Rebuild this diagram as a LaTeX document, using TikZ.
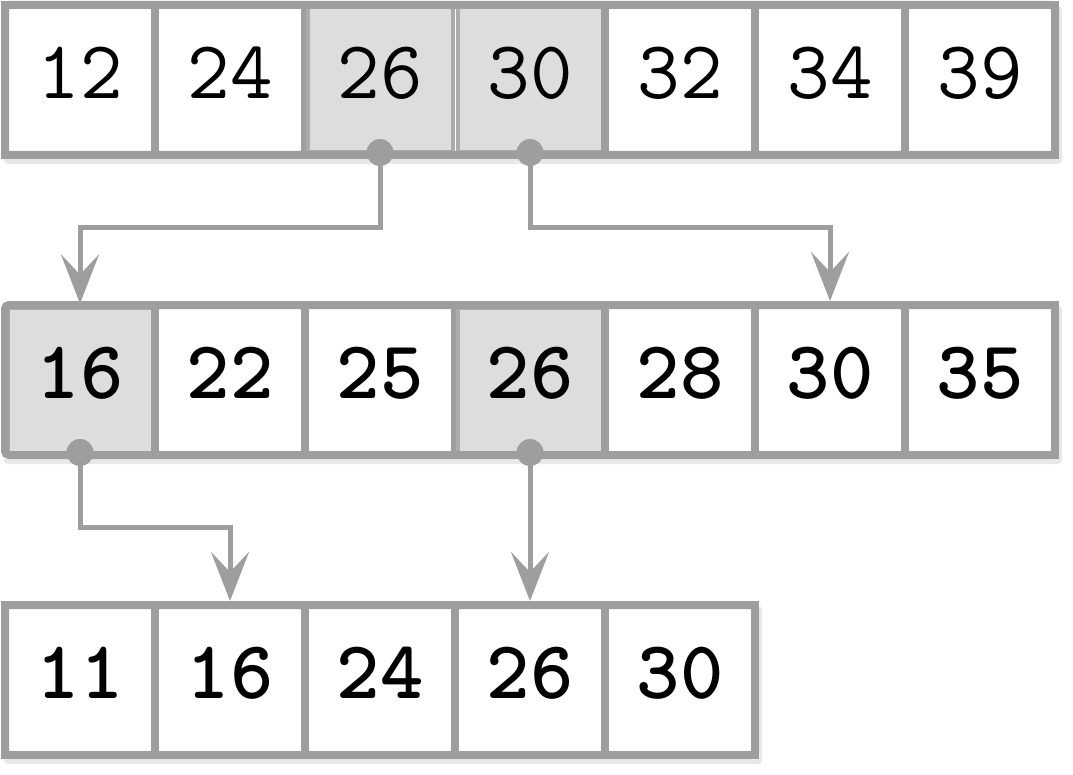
\documentclass[tikz,border=0pt]{standalone}
\usepackage{fontspec}
\usetikzlibrary{arrows.meta,shadows}
\definecolor{linegray}{HTML}{9E9E9E}
\definecolor{cellgray}{HTML}{DDDDDD}
\definecolor{markgray}{HTML}{ACACAC}
\tikzset{
  cell/.style={draw=linegray, line width=0.16cm, minimum size=3cm, inner sep=0pt,
    outer sep=0pt, fill=white, text height=29pt, text depth=8pt,
    font=\ttfamily\fontsize{47}{52}\selectfont},
  markcell/.style={cell, fill=cellgray, draw=markgray, line width=0.08cm, minimum size=2.9cm},
  boldcell/.style={cell, font=\ttfamily\bfseries\fontsize{47}{52}\selectfont},
  boldmark/.style={markcell, font=\ttfamily\bfseries\fontsize{47}{52}\selectfont},
  rowback/.style={fill=white, rounded corners=0.08cm,
    drop shadow={opacity=0.18, shadow xshift=0.06cm, shadow yshift=-0.1cm}},
  rowline/.style={draw=linegray, line width=0.16cm, rounded corners=0.08cm},
  link/.style={draw=linegray, line width=0.1cm, shorten >=0.08cm,
    -{Stealth[length=0.98cm, width=0.76cm, inset=0.4cm]}},
  dot/.style={fill=linegray}
}
\begin{document}
\begin{tikzpicture}
    \useasboundingbox (0,0) rectangle (21.46,-15.48);
    % row backgrounds
    \fill[rowback] (0.02,-0.02) rectangle (21.18,-3.18);
    \fill[rowback] (0.02,-6.02) rectangle (21.18,-9.18);
    \fill[rowback] (0.02,-12.02) rectangle (15.18,-15.18);
    % first row
    \foreach \v/\s [count=\i] in {12/cell,24/cell,26/markcell,30/markcell,32/cell,34/cell,39/cell}
        \node[\s] (a\i) at (3*\i-1.4,-1.6) {\v};
    % second row
    \foreach \v/\s [count=\i] in {16/boldmark,22/boldcell,25/boldcell,26/boldmark,28/boldcell,30/boldcell,35/boldcell}
        \node[\s] (b\i) at (3*\i-1.4,-7.6) {\v};
    % third row
    \foreach \v [count=\i] in {11,16,24,26,30}
        \node[boldcell] (c\i) at (3*\i-1.4,-13.6) {\v};
    % row outlines
    \draw[rowline] (0.1,-0.1) rectangle (21.1,-3.1);
    \draw[rowline] (0.1,-6.1) rectangle (21.1,-9.1);
    \draw[rowline] (0.1,-12.1) rectangle (15.1,-15.1);
    % links
    \draw[link] (a3.south) -- ++(0,-1.5) -| (b1.north);
    \draw[link] (a4.south) -- ++(0,-1.5) -| (b6.north);
    \draw[link] (b1.south) -- ++(0,-1.5) -| (c2.north);
    \draw[link] (b4.south) -- (c4.north);
    \foreach \n in {a3,a4,b1,b4}
        \fill[dot] (\n.south) circle (0.27);
\end{tikzpicture}
\end{document}
